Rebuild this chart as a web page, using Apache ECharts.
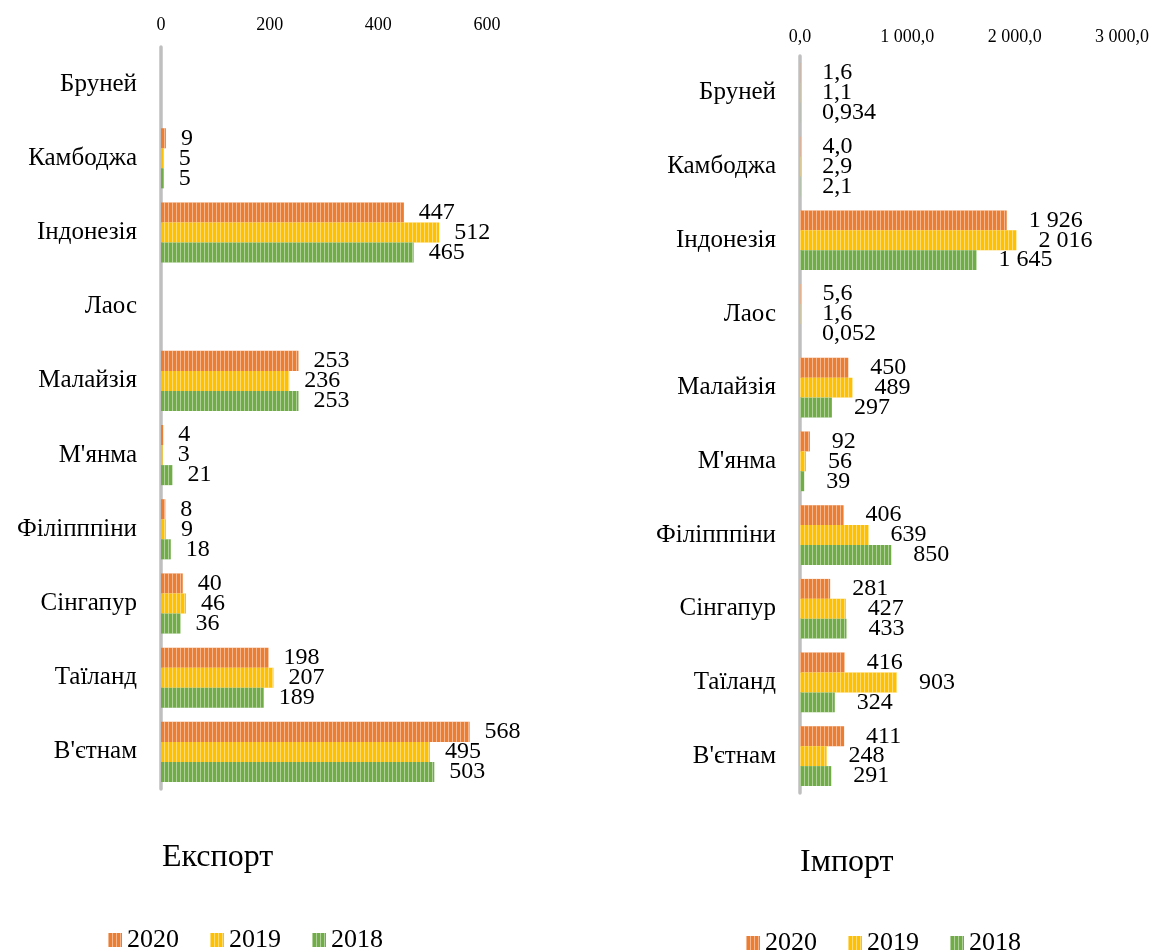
<!DOCTYPE html>
<html>
<head>
<meta charset="utf-8">
<script src="https://cdn.jsdelivr.net/npm/echarts@6/dist/echarts.min.js"></script>
<style>
  html, body { margin: 0; padding: 0; background: #fff; }
  #chart { width: 1154px; height: 950px; }
</style>
</head>
<body>
<div id="chart"></div>
<script>
const countries = ["Бруней", "Камбоджа", "Індонезія", "Лаос", "Малайзія", "М'янма", "Філіпппіни", "Сінгапур", "Таїланд", "В'єтнам"]
const years = ["2020", "2019", "2018"]
const colors = ["#ED7D31", "#FFC000", "#70AD47"]

// export, left panel (no bars for Бруней and Лаос)
const export2020 = [null, 9, 447, null, 253, 4, 8, 40, 198, 568]
const export2019 = [null, 5, 512, null, 236, 3, 9, 46, 207, 495]
const export2018 = [null, 5, 465, null, 253, 21, 18, 36, 189, 503]

// import, right panel
const import2020 = [1.6, 4.0, 1926, 5.6, 450, 92, 406, 281, 416, 411]
const import2019 = [1.1, 2.9, 2016, 1.6, 489, 56, 639, 427, 903, 248]
const import2018 = [0.934, 2.1, 1645, 0.052, 297, 39, 850, 433, 324, 291]

const font = "'Liberation Serif', 'Times New Roman', serif"

const stripes = {
  symbol: "rect",
  symbolSize: 1,
  dashArrayX: [1, 3],
  dashArrayY: [10, 0],
  rotation: 0,
  color: "rgba(255,255,255,0.45)",
}

const groupThousands = (s) => s.replace(/\B(?=(\d{3})+(?!\d))/g, " ")

const exportLabel = (v) => String(Math.round(v))
const importLabel = (v) => {
  if (v < 1) return v.toFixed(3).replace(".", ",")
  if (v < 10) return v.toFixed(1).replace(".", ",")
  return groupThousands(String(Math.round(v)))
}
const importTick = (v) => {
  const parts = v.toFixed(1).split(".")
  return groupThousands(parts[0]) + "," + parts[1]
}

const barSeries = (name, data, color, idx, fmt, dist) => ({
  name: name,
  type: "bar",
  data: data,
  xAxisIndex: idx,
  yAxisIndex: idx,
  barGap: "0%",
  barCategoryGap: "19%",
  itemStyle: { color: color, decal: stripes },
  label: {
    show: true,
    position: "right",
    distance: dist,
    color: "#000",
    fontFamily: font,
    fontSize: 24,
    formatter: (p) => fmt(p.value),
  },
})

const valueAxis = (idx, max, interval, fmt, margin) => ({
  type: "value",
  gridIndex: idx,
  position: "top",
  min: 0,
  max: max,
  interval: interval,
  axisLine: { show: false },
  axisTick: { show: false },
  splitLine: { show: false },
  axisLabel: { color: "#000", fontFamily: font, fontSize: 18, margin: margin, formatter: fmt },
})

const categoryAxis = (idx) => ({
  type: "category",
  gridIndex: idx,
  inverse: true,
  data: countries,
  axisLine: { show: true, lineStyle: { color: "#BFBFBF", width: 3.5 } },
  axisTick: { show: false },
  axisLabel: { color: "#000", fontFamily: font, fontSize: 25, margin: 24 },
})

const legendStyle = (left, top) => ({
  left: left,
  top: top,
  icon: "rect",
  itemWidth: 14,
  itemHeight: 14,
  itemGap: 31,
  data: years,
  textStyle: { color: "#000", fontFamily: font, fontSize: 26 },
})

const chart = echarts.init(document.getElementById("chart"))
chart.setOption({
  animation: false,
  title: [
    { text: "Експорт", left: 162, top: 842, padding: 0,
      textStyle: { color: "#000", fontFamily: font, fontSize: 32, fontWeight: "normal" } },
    { text: "Імпорт", left: 800, top: 847, padding: 0,
      textStyle: { color: "#000", fontFamily: font, fontSize: 32, fontWeight: "normal" } },
  ],
  legend: [legendStyle(103, 922), legendStyle(741, 925)],
  grid: [
    { left: 161, top: 47, width: 326, height: 742 },
    { left: 800, top: 56, width: 322, height: 737 },
  ],
  xAxis: [
    valueAxis(0, 600, 200, (v) => String(v), 13),
    valueAxis(1, 3000, 1000, importTick, 10),
  ],
  yAxis: [categoryAxis(0), categoryAxis(1)],
  series: [
    barSeries(years[0], export2020, colors[0], 0, exportLabel, 15),
    barSeries(years[1], export2019, colors[1], 0, exportLabel, 15),
    barSeries(years[2], export2018, colors[2], 0, exportLabel, 15),
    barSeries(years[0], import2020, colors[0], 1, importLabel, 22),
    barSeries(years[1], import2019, colors[1], 1, importLabel, 22),
    barSeries(years[2], import2018, colors[2], 1, importLabel, 22),
  ],
})
</script>
</body>
</html>
